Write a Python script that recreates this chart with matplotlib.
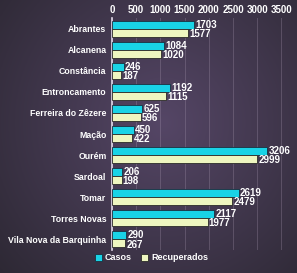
import matplotlib
matplotlib.use("Agg")
import matplotlib.pyplot as plt
import numpy as np

categories = ["Abrantes", "Alcanena", "Constância", "Entroncamento", "Ferreira do Zêzere",
              "Mação", "Ourém", "Sardoal", "Tomar", "Torres Novas", "Vila Nova da Barquinha"]
casos = [1703, 1084, 246, 1192, 625, 450, 3206, 206, 2619, 2117, 290]
recuperados = [1577, 1020, 187, 1115, 596, 422, 2999, 198, 2479, 1977, 267]
xticks = [0, 500, 1000, 1500, 2000, 2500, 3000, 3500]

plt.rcParams["font.family"] = ["Liberation Sans Narrow", "Liberation Sans", "DejaVu Sans"]

W, H = 297, 273
fig = plt.figure(figsize=(W/100, H/100), dpi=100)

# background gradient
bg = fig.add_axes([0, 0, 1, 1])
yy, xx = np.mgrid[0:1:200j, 0:1:200j]
d = np.sqrt(((xx - 0.55) / 0.8) ** 2 + ((yy - 0.45) / 0.9) ** 2)
t = np.clip(1 - d, 0, 1)
c0 = np.array([0x2a, 0x26, 0x30]) / 255
c1 = np.array([0x55, 0x46, 0x66]) / 255
img = c0[None, None, :]*(1-t[..., None]) + c1[None, None, :]*t[..., None]
bg.imshow(img, extent=[0, 1, 0, 1], aspect="auto", origin="upper")
bg.axis("off")

ax = fig.add_axes([112/W, 1-250/H, 179/W, (250-18)/H])
ax.patch.set_alpha(0)
n = len(categories)
y = np.arange(n)
h = 0.38
ax.barh(y - h/2, casos, height=h, color="#19d3e6", edgecolor="#1a3040", linewidth=0.6, label="Casos", zorder=3)
ax.barh(y + h/2, recuperados, height=h, color="#eef6c0", edgecolor="#2a2a28", linewidth=0.6, label="Recuperados", zorder=3)
for i in range(n):
    ax.text(casos[i] + 25, y[i] - h/2, str(casos[i]), va="center", ha="left", color="white",
            fontsize=7, fontweight="bold", zorder=4)
    ax.text(recuperados[i] + 25, y[i] + h/2 + 0.05, str(recuperados[i]), va="center", ha="left", color="white",
            fontsize=7, fontweight="bold", zorder=4)

ax.set_xlim(0, 3700)
ax.set_ylim(n - 0.5, -0.5)
ax.set_xticks(xticks)
ax.xaxis.tick_top()
ax.tick_params(axis="x", length=0, colors="white", labelsize=7, pad=2)
ax.tick_params(axis="y", length=0, colors="white", labelsize=6.3, pad=4)
for lab in ax.get_xticklabels() + ax.get_yticklabels():
    lab.set_fontweight("bold")
ax.set_yticks(y)
ax.set_yticklabels(categories)
ax.grid(axis="x", color="#a898b0", alpha=0.3, linewidth=0.7, zorder=0)
for s in ["top", "right", "bottom"]:
    ax.spines[s].set_visible(False)
ax.spines["left"].set_color("#e0d8e8")
ax.spines["left"].set_linewidth(1.2)

leg = fig.legend(loc="center", bbox_to_anchor=(0.51, 1-258/H), ncol=2, frameon=False,
                 prop={"size": 6.5, "weight": "bold"}, handlelength=0.8, handleheight=0.8,
                 handletextpad=0.3, columnspacing=1.0)
for txt in leg.get_texts():
    txt.set_color("white")

fig.savefig("out.png", dpi=100)
